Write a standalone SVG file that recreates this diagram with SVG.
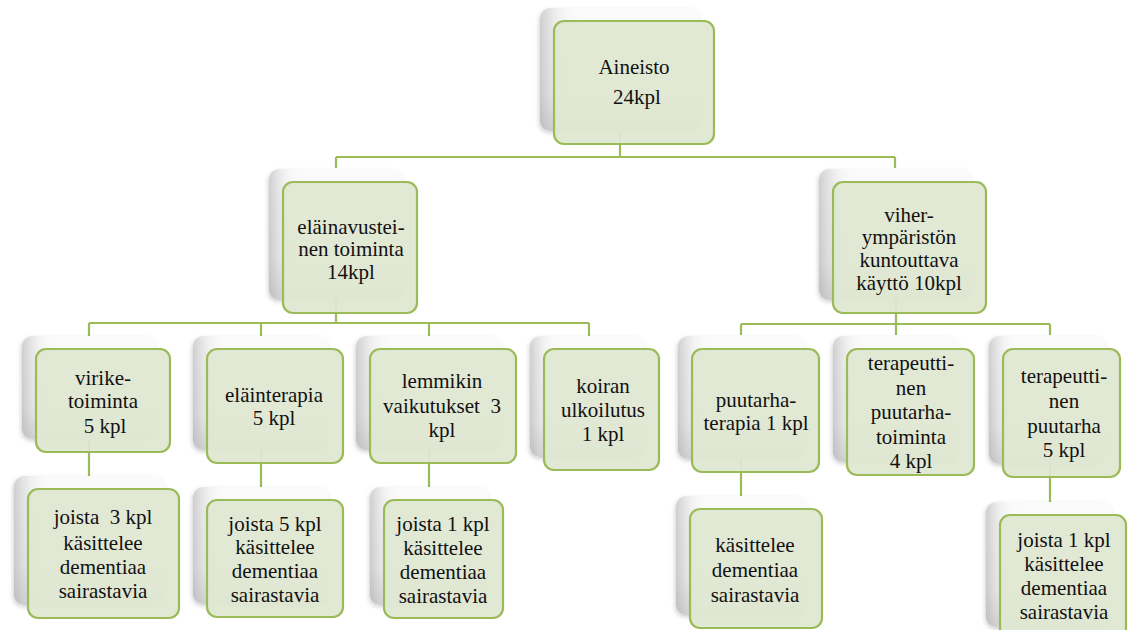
<svg xmlns="http://www.w3.org/2000/svg" width="1128" height="630" viewBox="0 0 1128 630">
<defs>
<linearGradient id="backV" x1="0" y1="0" x2="0" y2="1">
<stop offset="0" stop-color="#fbfbfb"/>
<stop offset="0.7" stop-color="#f2f2f2"/>
<stop offset="1" stop-color="#d9d9d9"/>
</linearGradient>
<linearGradient id="backH" x1="0" y1="0" x2="1" y2="0">
<stop offset="0" stop-color="#9a9a9a" stop-opacity="0.45"/>
<stop offset="0.12" stop-color="#bdbdbd" stop-opacity="0.15"/>
<stop offset="0.25" stop-color="#ffffff" stop-opacity="0"/>
</linearGradient>
<filter id="sh" x="-20%" y="-20%" width="140%" height="140%">
<feDropShadow dx="-1" dy="2" stdDeviation="2" flood-color="#000" flood-opacity="0.18"/>
</filter>
</defs>
<style>
.back{fill:url(#backV);filter:url(#sh)}
.backo{fill:url(#backH)}
.front{fill:#dfe7d1;fill-opacity:0.94;stroke:#9bbb59;stroke-width:2.2}
.c{fill:none;stroke:#9bbb59;stroke-width:2.2}
text{font-size:21px;fill:#111;text-anchor:middle}
</style>
<g id="connectors">
<path class="c" d="M620 130V157M336 157H895M336 157V168M895 157V168"/>
<path class="c" d="M336 300V323M89 323H589M89 323V336M261 323V336M429 323V336M589 323V336"/>
<path class="c" d="M896 300V324M741 324H1050M741 324V335M896 324V335M1050 324V335"/>
<path class="c" d="M89 440V476M261 450V487M429 450V487M741 460V496M1050 465V502"/>
</g>
<g font-family="'Liberation Serif', 'Times New Roman', Tinos, 'DejaVu Serif', serif">
<g id="n-aineisto">
<rect class="back" x="540" y="8" width="160" height="123" rx="10"/><rect class="backo" x="540" y="8" width="160" height="123" rx="10"/>
<rect class="front" x="554" y="21" width="160" height="123" rx="10"/>
<text x="634" y="74">Aineisto</text><text x="637" y="104">24kpl</text>
</g>
<g id="n-elainavusteinen">
<rect class="back" x="269" y="169" width="134" height="131" rx="10"/><rect class="backo" x="269" y="169" width="134" height="131" rx="10"/>
<rect class="front" x="283" y="182" width="134" height="131" rx="10"/>
<text x="351" y="234">eläinavustei-</text><text x="351" y="256">nen toiminta</text><text x="351" y="279">14kpl</text>
</g>
<g id="n-viherymparisto">
<rect class="back" x="819" y="169" width="153" height="131" rx="10"/><rect class="backo" x="819" y="169" width="153" height="131" rx="10"/>
<rect class="front" x="833" y="182" width="153" height="131" rx="10"/>
<text x="909" y="222">viher-</text><text x="909" y="244">ympäristön</text><text x="909" y="267">kuntouttava</text><text x="909" y="290">käyttö 10kpl</text>
</g>
<g id="n-viriketoiminta">
<rect class="back" x="22" y="336" width="134" height="103" rx="10"/><rect class="backo" x="22" y="336" width="134" height="103" rx="10"/>
<rect class="front" x="36" y="349" width="134" height="103" rx="10"/>
<text x="103" y="385">virike-</text><text x="103" y="408">toiminta</text><text x="105" y="433">5 kpl</text>
</g>
<g id="n-joista3">
<rect class="back" x="14" y="476" width="151" height="129" rx="10"/><rect class="backo" x="14" y="476" width="151" height="129" rx="10"/>
<rect class="front" x="28" y="489" width="151" height="129" rx="10"/>
<text x="103" y="524" xml:space="preserve">joista  3 kpl</text><text x="103" y="550">käsittelee</text><text x="103" y="574">dementiaa</text><text x="103" y="598">sairastavia</text>
</g>
<g id="n-elainterapia">
<rect class="back" x="193" y="336" width="136" height="114" rx="10"/><rect class="backo" x="193" y="336" width="136" height="114" rx="10"/>
<rect class="front" x="207" y="349" width="136" height="114" rx="10"/>
<text x="274" y="402">eläinterapia</text><text x="274" y="425">5 kpl</text>
</g>
<g id="n-joista5">
<rect class="back" x="193" y="487" width="136" height="117" rx="10"/><rect class="backo" x="193" y="487" width="136" height="117" rx="10"/>
<rect class="front" x="207" y="500" width="136" height="117" rx="10"/>
<text x="275" y="531">joista 5 kpl</text><text x="275" y="554">käsittelee</text><text x="275" y="578">dementiaa</text><text x="275" y="602">sairastavia</text>
</g>
<g id="n-lemmikin">
<rect class="back" x="356" y="336" width="146" height="114" rx="10"/><rect class="backo" x="356" y="336" width="146" height="114" rx="10"/>
<rect class="front" x="370" y="349" width="146" height="114" rx="10"/>
<text x="442" y="388">lemmikin</text><text x="442" y="413" xml:space="preserve">vaikutukset  3</text><text x="442" y="437">kpl</text>
</g>
<g id="n-joista1a">
<rect class="back" x="370" y="487" width="119" height="118" rx="10"/><rect class="backo" x="370" y="487" width="119" height="118" rx="10"/>
<rect class="front" x="384" y="500" width="119" height="118" rx="10"/>
<text x="443" y="531">joista 1 kpl</text><text x="443" y="555">käsittelee</text><text x="443" y="579">dementiaa</text><text x="443" y="603">sairastavia</text>
</g>
<g id="n-koiran">
<rect class="back" x="530" y="336" width="115" height="121" rx="10"/><rect class="backo" x="530" y="336" width="115" height="121" rx="10"/>
<rect class="front" x="544" y="349" width="115" height="121" rx="10"/>
<text x="603" y="393">koiran</text><text x="603" y="417">ulkoilutus</text><text x="603" y="441">1 kpl</text>
</g>
<g id="n-puutarhaterapia">
<rect class="back" x="678" y="336" width="127" height="123" rx="10"/><rect class="backo" x="678" y="336" width="127" height="123" rx="10"/>
<rect class="front" x="692" y="349" width="127" height="123" rx="10"/>
<text x="756" y="407">puutarha-</text><text x="756" y="430">terapia 1 kpl</text>
</g>
<g id="n-kasittelee">
<rect class="back" x="676" y="496" width="132" height="119" rx="10"/><rect class="backo" x="676" y="496" width="132" height="119" rx="10"/>
<rect class="front" x="690" y="509" width="132" height="119" rx="10"/>
<text x="755" y="552">käsittelee</text><text x="755" y="577">dementiaa</text><text x="755" y="602">sairastavia</text>
</g>
<g id="n-puutarhatoiminta">
<rect class="back" x="833" y="336" width="127" height="126" rx="10"/><rect class="backo" x="833" y="336" width="127" height="126" rx="10"/>
<rect class="front" x="847" y="349" width="127" height="126" rx="10"/>
<text x="911" y="370">terapeutti-</text><text x="911" y="395">nen</text><text x="911" y="419">puutarha-</text><text x="911" y="444">toiminta</text><text x="911" y="468">4 kpl</text>
</g>
<g id="n-terapeuttinenpuutarha">
<rect class="back" x="989" y="336" width="117" height="128" rx="10"/><rect class="backo" x="989" y="336" width="117" height="128" rx="10"/>
<rect class="front" x="1003" y="349" width="117" height="128" rx="10"/>
<text x="1064" y="383">terapeutti-</text><text x="1064" y="408">nen</text><text x="1064" y="433">puutarha</text><text x="1064" y="457">5 kpl</text>
</g>
<g id="n-joista1b">
<rect class="back" x="986" y="502" width="126" height="125" rx="10"/><rect class="backo" x="986" y="502" width="126" height="125" rx="10"/>
<rect class="front" x="1000" y="515" width="126" height="125" rx="10"/>
<text x="1064" y="547">joista 1 kpl</text><text x="1064" y="571">käsittelee</text><text x="1064" y="595">dementiaa</text><text x="1064" y="619">sairastavia</text>
</g>
</g>
</svg>
